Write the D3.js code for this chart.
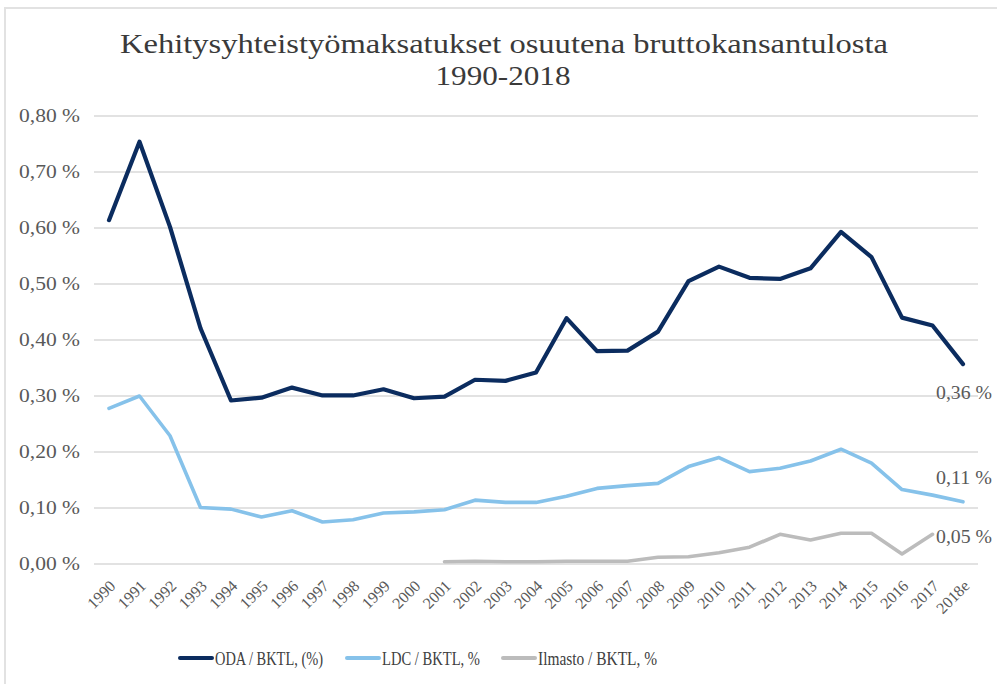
<!DOCTYPE html>
<html>
<head>
<meta charset="utf-8">
<script src="https://cdn.jsdelivr.net/npm/d3@7"></script>
<style>
  body { margin: 0; background: #fff; }
  svg { display: block; }
</style>
</head>
<body>
<svg id="chart" width="997" height="684"></svg>
<script>
// vuodet
var years = ["1990","1991","1992","1993","1994","1995","1996","1997","1998","1999",
  "2000","2001","2002","2003","2004","2005","2006","2007","2008","2009",
  "2010","2011","2012","2013","2014","2015","2016","2017","2018e"];

// ODA / BKTL, %
var oda = [0.614, 0.754, 0.602, 0.421, 0.292, 0.297, 0.315, 0.301, 0.301, 0.312,
  0.296, 0.299, 0.329, 0.327, 0.342, 0.439, 0.380, 0.381, 0.415, 0.505,
  0.531, 0.511, 0.509, 0.528, 0.593, 0.548, 0.440, 0.426, 0.357];

// LDC / BKTL, %
var ldc = [0.278, 0.300, 0.229, 0.101, 0.098, 0.084, 0.095, 0.075, 0.079, 0.091,
  0.093, 0.097, 0.114, 0.110, 0.110, 0.121, 0.135, 0.140, 0.144, 0.174,
  0.190, 0.165, 0.171, 0.184, 0.205, 0.180, 0.133, 0.123, 0.111];

// Ilmasto / BKTL, % (alkaa 2001, päättyy 2017)
var ilmasto = [null, null, null, null, null, null, null, null, null, null,
  null, 0.004, 0.005, 0.004, 0.004, 0.005, 0.005, 0.005, 0.012, 0.013,
  0.020, 0.030, 0.053, 0.043, 0.055, 0.055, 0.018, 0.053, null];

var yTicks = [0, 0.1, 0.2, 0.3, 0.4, 0.5, 0.6, 0.7, 0.8];
var endLabels = ["0,36 %", "0,11 %", "0,05 %"];
var legendNames = ["ODA / BKTL, (%)", "LDC / BKTL, %", "Ilmasto / BKTL, %"];

var colors = ["#0b2c5f", "#86c2ea", "#bcbcbc"];
var serif = "'Liberation Serif', 'DejaVu Serif', serif";

var svg = d3.select("#chart");

// kehys
svg.append("line").attr("x1", 4).attr("x2", 997).attr("y1", 8).attr("y2", 8)
  .attr("stroke", "#e2e2e2").attr("stroke-width", 2);
svg.append("line").attr("x1", 5).attr("x2", 5).attr("y1", 8).attr("y2", 684)
  .attr("stroke", "#e2e2e2").attr("stroke-width", 2);

// otsikko
svg.append("text")
  .attr("x", 504).attr("y", 53)
  .attr("text-anchor", "middle")
  .attr("textLength", 768).attr("lengthAdjust", "spacingAndGlyphs")
  .style("font-family", serif).style("font-size", "28px").style("fill", "#3a3a3a")
  .text("Kehitysyhteistyömaksatukset osuutena bruttokansantulosta");
svg.append("text")
  .attr("x", 503).attr("y", 85)
  .attr("text-anchor", "middle")
  .attr("textLength", 135).attr("lengthAdjust", "spacingAndGlyphs")
  .style("font-family", serif).style("font-size", "28px").style("fill", "#3a3a3a")
  .text("1990-2018");

const x = d3.scalePoint()
  .domain(years)
  .range([109, 963]);

const y = d3.scaleLinear()
  .domain([0, 0.8])
  .range([564, 116]);

const fmt = function(v) { return d3.format(".2f")(v).replace(".", ",") + " %"; };

// ruudukko
svg.append("g")
  .selectAll("line")
  .data(yTicks)
  .enter()
  .append("line")
  .attr("x1", 94).attr("x2", 978)
  .attr("y1", function(d) { return y(d); })
  .attr("y2", function(d) { return y(d); })
  .attr("stroke", "#d9d9d9").attr("stroke-width", 1.5);

// y-akseli
const yAxis = svg.append("g")
  .attr("transform", "translate(80,0)")
  .call(d3.axisLeft(y).tickValues(yTicks).tickSize(0).tickPadding(0).tickFormat(fmt));
yAxis.select(".domain").remove();
yAxis.selectAll("text")
  .style("font-family", serif).style("font-size", "18px").style("fill", "#595959")
  .attr("textLength", 61).attr("lengthAdjust", "spacingAndGlyphs");

// x-akseli
const xAxis = svg.append("g")
  .attr("transform", "translate(0,564)")
  .call(d3.axisBottom(x).tickSize(0).tickPadding(0));
xAxis.select(".domain").remove();
xAxis.selectAll("text")
  .attr("text-anchor", "end")
  .attr("dy", 0)
  .attr("transform", "translate(7,23) rotate(-45)")
  .style("font-family", serif).style("font-size", "16px").style("fill", "#595959");

// viivat
const line = d3.line()
  .defined(function(d) { return d != null; })
  .x(function(d, i) { return x(years[i]); })
  .y(function(d) { return y(d); });

var series = [oda, ldc, ilmasto];
var widths = [4.2, 3.6, 3.6];

svg.append("g")
  .selectAll("path")
  .data(series)
  .enter()
  .append("path")
  .attr("d", line)
  .attr("fill", "none")
  .attr("stroke", function(d, i) { return colors[i]; })
  .attr("stroke-width", function(d, i) { return widths[i]; })
  .attr("stroke-linejoin", "round")
  .attr("stroke-linecap", "round");

// loppuarvot
var labelY = [393, 478, 537];
svg.append("g")
  .selectAll("text")
  .data(endLabels)
  .enter()
  .append("text")
  .attr("x", 936)
  .attr("y", function(d, i) { return labelY[i]; })
  .attr("dominant-baseline", "central")
  .attr("textLength", 56).attr("lengthAdjust", "spacingAndGlyphs")
  .style("font-family", serif).style("font-size", "18px").style("fill", "#595959")
  .text(function(d) { return d; });

// selite
var legX = [180, 347, 503];
var legW = [108, 98, 119];
const leg = svg.append("g")
  .selectAll("g")
  .data(legendNames)
  .enter()
  .append("g")
  .attr("transform", function(d, i) { return "translate(" + legX[i] + ",658)"; });

leg.append("line")
  .attr("x1", 0).attr("x2", 32)
  .attr("stroke", function(d, i) { return colors[i]; })
  .attr("stroke-width", 4)
  .attr("stroke-linecap", "round");

leg.append("text")
  .attr("x", 35)
  .attr("dominant-baseline", "central")
  .attr("textLength", function(d, i) { return legW[i]; })
  .attr("lengthAdjust", "spacingAndGlyphs")
  .style("font-family", serif).style("font-size", "19px").style("fill", "#404040")
  .text(function(d) { return d; });
</script>
</body>
</html>
